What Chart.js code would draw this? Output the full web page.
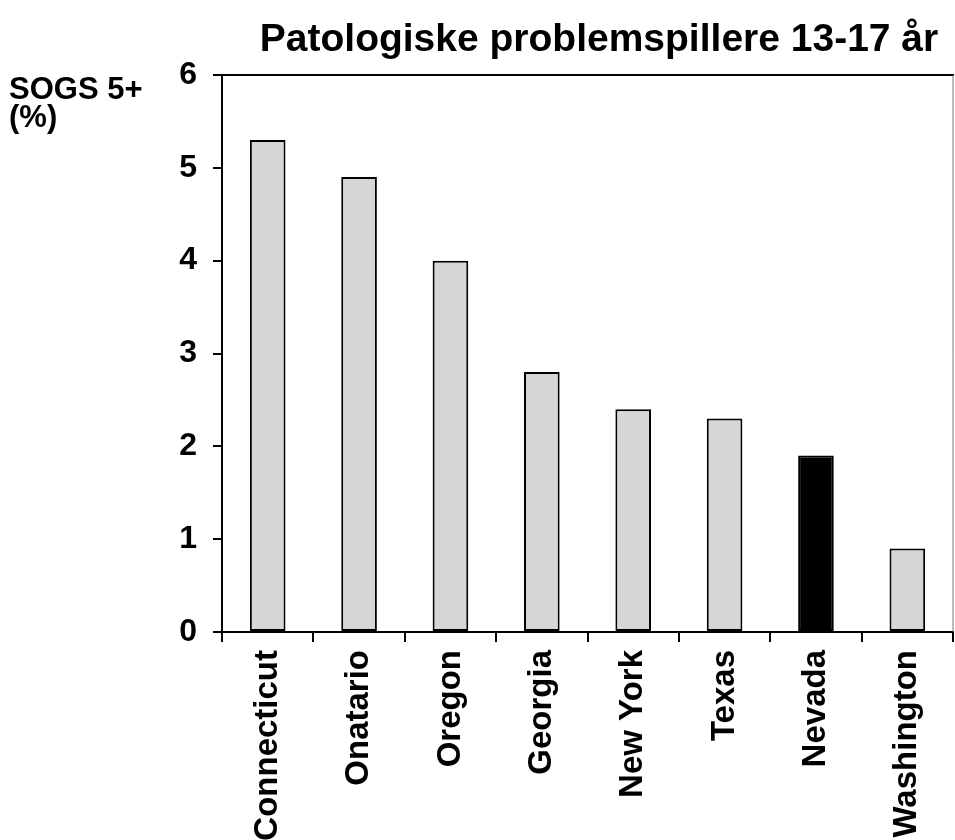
<!DOCTYPE html>
<html>
<head>
<meta charset="utf-8">
<script src="https://cdn.jsdelivr.net/npm/chart.js@4/dist/chart.umd.min.js"></script>
<style>
  html, body { margin: 0; padding: 0; background: #ffffff; }
  #wrap { width: 955px; height: 840px; position: relative; }
</style>
</head>
<body>
<div id="wrap"><canvas id="c" width="955" height="840"></canvas></div>
<script>
const chartTitle = "Patologiske problemspillere 13-17 år";
const yAxisLabel = ["SOGS 5+", "(%)"];
const categories = ["Connecticut", "Onatario", "Oregon", "Georgia", "New York", "Texas", "Nevada", "Washington"];
const values = [5.3, 4.9, 4.0, 2.8, 2.4, 2.3, 1.9, 0.9];
const highlight = "Nevada";
const yTicks = [0, 1, 2, 3, 4, 5, 6];

const FONT = "'Liberation Sans', Arial, sans-serif";

const decor = {
  id: 'decor',
  afterDraw(chart) {
    const ctx = chart.ctx;
    const a = chart.chartArea;
    ctx.save();
    // top frame line and right frame line
    ctx.strokeStyle = '#000';
    ctx.lineWidth = 2;
    ctx.beginPath();
    ctx.moveTo(a.left - 9, a.top);
    ctx.lineTo(a.right + 1, a.top);
    ctx.stroke();
    ctx.strokeStyle = '#777';
    ctx.lineWidth = 1;
    ctx.beginPath();
    ctx.moveTo(a.right, a.top);
    ctx.lineTo(a.right, a.bottom);
    ctx.stroke();

    // title
    ctx.fillStyle = '#000';
    ctx.font = "bold 39px " + FONT;
    ctx.textBaseline = 'alphabetic';
    ctx.textAlign = 'center';
    ctx.fillText(chartTitle, 599, 51);

    // y-axis label
    ctx.textAlign = 'left';
    ctx.font = "bold 31px " + FONT;
    ctx.fillText(yAxisLabel[0], 9, 99);
    ctx.fillText(yAxisLabel[1], 9, 127);
    ctx.restore();
  }
};

new Chart(document.getElementById('c'), {
  type: 'bar',
  data: {
    labels: categories,
    datasets: [{
      data: values,
      backgroundColor: categories.map(c => c === highlight ? '#000000' : '#d6d6d6'),
      borderColor: '#000000',
      borderWidth: 2,
      borderSkipped: false,
      barPercentage: 0.39,
      categoryPercentage: 1.0
    }]
  },
  options: {
    responsive: false,
    animation: false,
    devicePixelRatio: 1,
    layout: { padding: { top: 75, right: 1, left: 0, bottom: 0 } },
    plugins: {
      legend: { display: false },
      title: { display: false },
      tooltip: { enabled: false }
    },
    scales: {
      x: {
        offset: true,
        afterFit(scale) { scale.height = 208; },
        grid: {
          offset: true,
          drawOnChartArea: false,
          drawTicks: true,
          tickLength: 10,
          color: '#000',
          lineWidth: 2
        },
        border: { display: true, color: '#000', width: 2 },
        ticks: {
          color: '#000',
          font: { family: FONT, size: 33, weight: 'bold' },
          minRotation: 90,
          maxRotation: 90,
          padding: 8,
          autoSkip: false
        }
      },
      y: {
        min: 0,
        max: 6,
        afterFit(scale) { scale.width = 222; },
        afterBuildTicks(scale) { scale.ticks = yTicks.map(v => ({ value: v })); },
        grid: {
          drawOnChartArea: false,
          drawTicks: true,
          tickLength: 9,
          color: '#000',
          lineWidth: 2
        },
        border: { display: true, color: '#000', width: 2 },
        ticks: {
          color: '#000',
          font: { family: FONT, size: 32, weight: 'bold' },
          padding: 16
        }
      }
    }
  },
  plugins: [decor]
});
</script>
</body>
</html>
